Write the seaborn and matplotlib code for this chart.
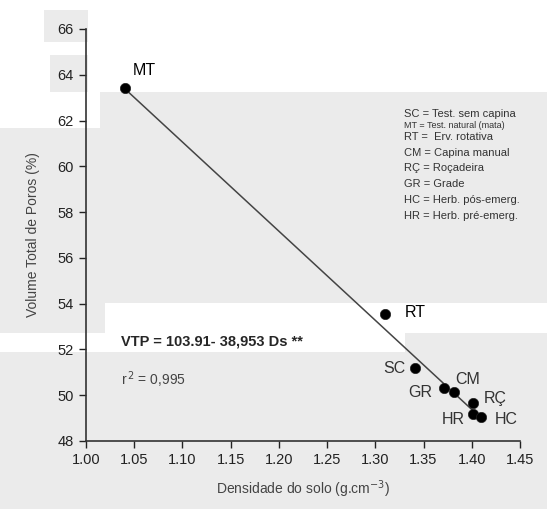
import numpy as np
import pandas as pd
import matplotlib.pyplot as plt
from matplotlib.patches import Rectangle
import seaborn as sns

# Data
treatments = ["MT", "RT", "SC", "GR", "CM", "RÇ", "HR", "HC"]
density = [1.04, 1.31, 1.341, 1.371, 1.382, 1.401, 1.401, 1.41]
porosity = [63.43, 53.55, 51.17, 50.3, 50.13, 49.65, 49.17, 49.03]

# regression VTP = a - b * Ds
intercept = 103.91
slope = -38.953
fit_range = [1.04, 1.41]

legend_lines = ["SC = Test. sem capina", "MT = Test. natural (mata)", "RT =  Erv. rotativa",
                "CM = Capina manual", "RÇ = Roçadeira", "GR = Grade",
                "HC = Herb. pós-emerg.", "HR = Herb. pré-emerg."]
legend_y = [62.3, 61.8, 61.27, 60.6, 59.92, 59.23, 58.53, 57.85]

# label offsets (x, y, ha) for each treatment
label_pos = {
    "MT": (1.06, 64.2, "center"),
    "RT": (1.331, 53.6, "left"),
    "SC": (1.331, 51.15, "right"),
    "GR": (1.359, 50.1, "right"),
    "CM": (1.383, 50.7, "left"),
    "RÇ": (1.412, 49.85, "left"),
    "HR": (1.393, 48.96, "right"),
    "HC": (1.424, 48.96, "left"),
}

df = pd.DataFrame({"Ds": density, "VTP": porosity, "trat": treatments})

sns.set_style("ticks")
plt.rcParams["font.family"] = ["Liberation Sans", "DejaVu Sans"]

W, H = 547, 509
fig = plt.figure(figsize=(W / 100, H / 100), dpi=100, facecolor="#ebebeb")


def px_rect(x0, y0, x1, y1, color):
    # rectangle given in pixel coords of the scanned page
    fig.add_artist(Rectangle((x0 / W, 1 - y1 / H), (x1 - x0) / W, (y1 - y0) / H,
                             transform=fig.transFigure, facecolor=color,
                             edgecolor="none", zorder=-5))


# white patches of the scan
px_rect(0, 0, 547, 92, "white")
px_rect(0, 92, 100, 128, "white")
px_rect(44, 10, 88, 42, "#ebebeb")
px_rect(50, 55, 88, 92, "#ebebeb")
px_rect(105, 303, 547, 333, "white")
px_rect(0, 333, 405, 352, "white")

ax = fig.add_axes([86 / W, 1 - 441 / H, (520 - 86) / W, (441 - 29) / H])
ax.set_facecolor("none")

xs = np.array(fit_range)
ax.plot(xs, intercept + slope * xs, color="#444444", lw=1.1, zorder=1)

sns.scatterplot(data=df, x="Ds", y="VTP", ax=ax, color="black", s=55,
                edgecolor="#222222", linewidth=0.5, zorder=3, legend=False)

for t in treatments:
    lx, ly, ha = label_pos[t]
    c = "black" if t in ("MT", "RT") else "#333333"
    ax.text(lx, ly, t, ha=ha, va="center", fontsize=11.5, color=c)

ax.text(1.036, 52.34, "VTP = 103.91- 38,953 Ds **", fontsize=10.5,
        fontweight="bold", va="center", ha="left")
ax.text(1.036, 50.68, "r$^{\\,2}$ = 0,995", fontsize=10, va="center",
        ha="left", color="#444444")

for txt, yy in zip(legend_lines, legend_y):
    fs = 6.5 if txt.startswith("MT") else 8
    ax.text(1.33, yy, txt, fontsize=fs, va="center", ha="left", color="#333333")

ax.set_xlim(1.00, 1.45)
ax.set_ylim(48, 66)
ax.set_xticks(np.arange(1.00, 1.451, 0.05))
ax.set_xticklabels(["%.2f" % v for v in np.arange(1.00, 1.451, 0.05)])
ax.set_yticks(np.arange(48, 67, 2))
ax.tick_params(direction="out", length=5, width=1, labelsize=10.5,
               colors="#222222", pad=4)
for s in ["left", "bottom"]:
    ax.spines[s].set_color("#333333")
    ax.spines[s].set_linewidth(1.2)
sns.despine(ax=ax)

ax.set_xlabel("Densidade do solo (g.cm$^{-3}$)", fontsize=10, color="#444444",
              labelpad=8)
ax.set_ylabel("Volume Total de Poros (%)", fontsize=10, color="#444444",
              labelpad=12)

fig.savefig("out.png", dpi=100, facecolor=fig.get_facecolor())
